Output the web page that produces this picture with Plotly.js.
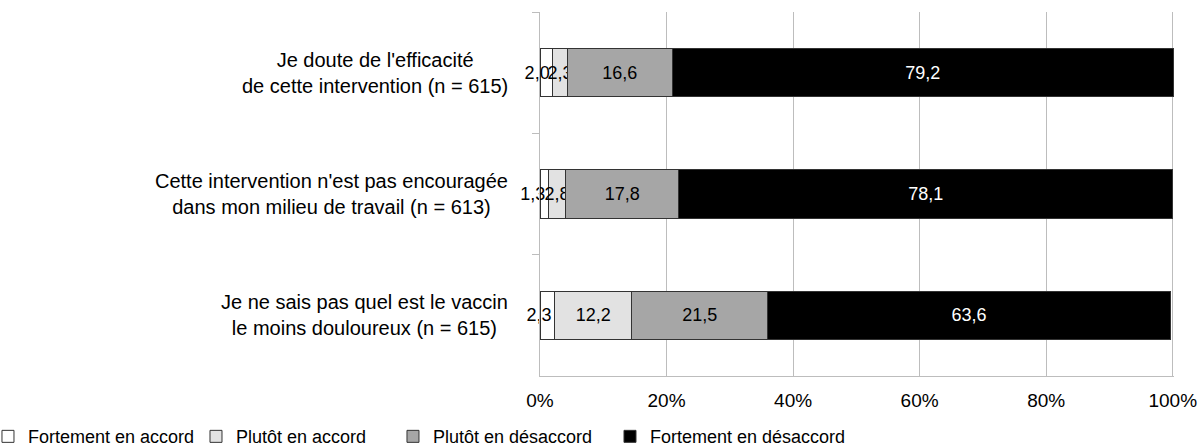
<!DOCTYPE html>
<html>
<head>
<meta charset="utf-8">
<script src="https://cdn.plot.ly/plotly-3.0.1.min.js"></script>
<style>
  html, body { margin:0; padding:0; background:#fff; }
  #chart { width:1201px; height:447px; }
</style>
</head>
<body>
<div id="chart"></div>
<script>
// ---- Data ----
const categories = [
  "Je doute de l'efficacité<br>de cette intervention (n = 615)",
  "Cette intervention n'est pas encouragée<br>dans mon milieu de travail (n = 613)",
  "Je ne sais pas quel est le vaccin<br>le moins douloureux (n = 615)"
];
const seriesNames = ['Fortement en accord', 'Plutôt en accord', 'Plutôt en désaccord', 'Fortement en désaccord'];
const fortAccord     = [2.0, 1.3, 2.3];
const plutotAccord   = [2.3, 2.8, 12.2];
const plutotDesacc   = [16.6, 17.8, 21.5];
const fortDesacc     = [79.2, 78.1, 63.6];
const xTicks = [0, 20, 40, 60, 80, 100];
const xTickLabels = ['0%', '20%', '40%', '60%', '80%', '100%'];

const fills = ['#ffffff', '#e2e2e2', '#a6a6a6', '#000000'];
const textColors = ['#000', '#000', '#000', '#fff'];
// the thin first segment keeps its label against its right end, like the original
const anchors = ['end', 'middle', 'middle', 'middle'];
const legendIds = ['legend', 'legend2', 'legend3', 'legend4'];
const legendX = [-0.8707, -0.5426, -0.2319, 0.1104]; // one legend per series, spread under the chart
const FONT = 'Liberation Sans, Arial, Helvetica, sans-serif';

const traces = [fortAccord, plutotAccord, plutotDesacc, fortDesacc].map((vals, i) => ({
  type: 'bar',
  orientation: 'h',
  name: seriesNames[i],
  legend: legendIds[i],
  y: categories,
  x: vals,
  marker: { color: fills[i], line: { color: '#333', width: 1 } },
  texttemplate: '%{x:.1f}',
  textposition: 'inside',
  insidetextanchor: anchors[i],
  textangle: 0,
  cliponaxis: false,
  insidetextfont: { color: textColors[i], size: 18, family: FONT },
  hoverinfo: 'skip'
}));

// category labels, centred lines like the original
const labelAnns = categories.map(c => ({
  xref: 'paper', yref: 'y', x: 0, y: c,
  xanchor: 'right', yanchor: 'middle', xshift: -30,
  text: c, showarrow: false, align: 'center',
  font: { size: 20, color: '#000', family: FONT }
}));

const layout = {
  width: 1201, height: 447,
  margin: { l: 540, r: 27, t: 12, b: 71, autoexpand: false },
  barmode: 'stack',
  bargap: 0.6,
  separators: ', ',
  paper_bgcolor: '#fff',
  plot_bgcolor: '#fff',
  font: { family: FONT, size: 19, color: '#000' },
  uniformtext: { mode: 'show', minsize: 18 },
  xaxis: {
    range: [0, 100.2],   // rows add up to 100,1 in the source
    tickvals: xTicks,
    ticktext: xTickLabels,
    showgrid: true, gridcolor: '#bdbdbd', gridwidth: 1,
    showline: true, linecolor: '#bdbdbd', linewidth: 1,
    ticks: 'outside', ticklen: 7, tickcolor: 'rgba(0,0,0,0)',
    zeroline: false,
    automargin: false,
    fixedrange: true
  },
  yaxis: {
    type: 'category',
    categoryarray: categories,
    autorange: 'reversed',
    showticklabels: false,
    showline: true, linecolor: '#bdbdbd', linewidth: 1,
    ticks: 'outside', tickson: 'boundaries', ticklen: 7, tickcolor: '#bdbdbd',
    showgrid: false, zeroline: false,
    automargin: false,
    fixedrange: true
  },
  showlegend: true,
  annotations: labelAnns
};

legendIds.forEach((id, i) => {
  layout[id] = {
    orientation: 'h',
    x: legendX[i], xanchor: 'left',
    y: -0.1158, yanchor: 'top',
    bgcolor: 'rgba(0,0,0,0)',
    font: { size: 18, family: FONT, color: '#000' },
    itemclick: false, itemdoubleclick: false
  };
});

Plotly.newPlot('chart', traces, layout, { displayModeBar: false, staticPlot: true });
</script>
</body>
</html>
